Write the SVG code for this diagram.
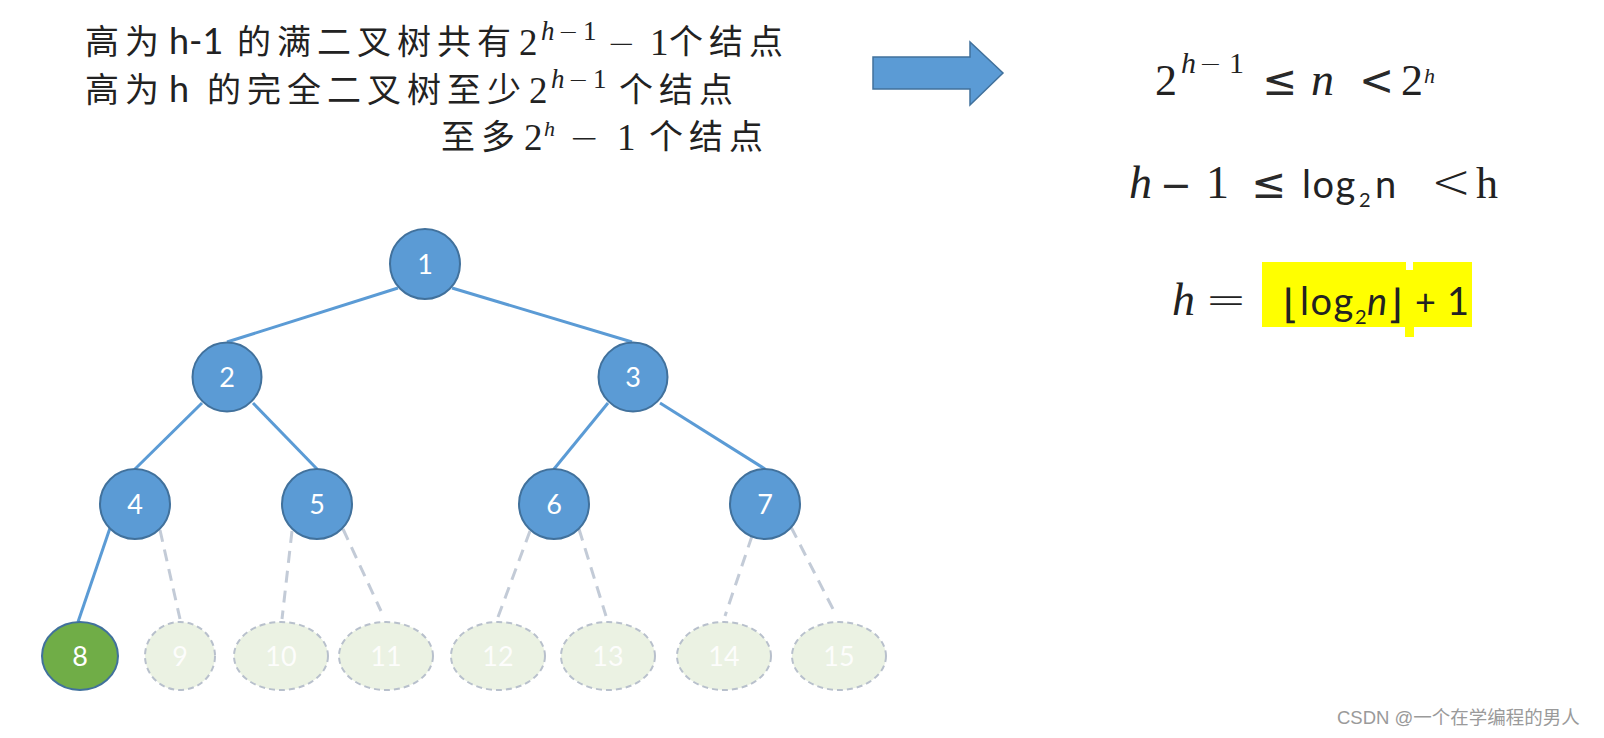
<svg xmlns="http://www.w3.org/2000/svg" width="1604" height="738" viewBox="0 0 1604 738">
<style>
.cjk{font-family:"Liberation Sans","Noto Sans CJK SC",sans-serif;font-size:34px;letter-spacing:6px;fill:#222}
.lat{font-family:Lato,"Liberation Sans",sans-serif;font-size:36px;fill:#222}
.m{font-family:"Liberation Serif",serif;fill:#222}
.mi{font-family:"Liberation Serif",serif;font-style:italic;fill:#222}
.op{font-family:"DejaVu Sans",sans-serif;fill:#2a2a2a}
.thin{font-family:"DejaVu Sans",sans-serif;font-weight:200;fill:#222}
.sans{font-family:Lato,"Liberation Sans",sans-serif;fill:#222}
.dj{font-family:"DejaVu Sans",sans-serif;font-weight:200;fill:#222}
.edge{stroke:#5b9bd5;stroke-width:3;fill:none}
.dash{stroke:#c3cbd7;stroke-width:3;stroke-dasharray:12 8;fill:none}
.nb{fill:#5b9bd5;stroke:#41719c;stroke-width:2}
.ng{fill:#70ad47;stroke:#41719c;stroke-width:2}
.nl{fill:#ebf2e3;stroke:#b8c0cc;stroke-width:2;stroke-dasharray:6 4}
.lbl{font-family:Lato,"Liberation Sans",sans-serif;font-size:27px;fill:#fff;text-anchor:middle}
.lbll{font-family:Lato,"Liberation Sans",sans-serif;font-size:27px;fill:#fff;text-anchor:middle;opacity:0.9}
.wm{font-family:"Liberation Sans","Noto Sans CJK SC",sans-serif;font-size:18.5px;fill:#9a9a9a}
</style>
<rect width="1604" height="738" fill="#fff"/>

<!-- top-left text -->
<g id="text-left">
<text class="cjk" x="85" y="54">高为</text>
<text class="lat" x="169" y="54">h-1</text>
<text class="cjk" x="237" y="54">的满二叉树共有</text>
<text class="m" x="519" y="55" font-size="37">2</text>
<text class="mi" x="541" y="40" font-size="27">h</text>
<text class="thin" x="558" y="40" font-size="24">−</text>
<text class="m" x="583" y="40" font-size="27">1</text>
<text class="thin" x="607" y="55" font-size="34">−</text>
<text class="m" x="650" y="55" font-size="37">1</text>
<text class="cjk" x="669" y="54">个结点</text>

<text class="cjk" x="85" y="102">高为</text>
<text class="lat" x="169" y="102">h</text>
<text class="cjk" x="207" y="102">的完全二叉树至少</text>
<text class="m" x="529" y="103" font-size="37">2</text>
<text class="mi" x="551" y="88" font-size="27">h</text>
<text class="thin" x="568" y="88" font-size="24">−</text>
<text class="m" x="593" y="88" font-size="27">1</text>
<text class="cjk" x="619" y="102">个结点</text>

<text class="cjk" x="441" y="149">至多</text>
<text class="m" x="524" y="150" font-size="37">2</text>
<text class="mi" x="544" y="136" font-size="22">h</text>
<text class="thin" x="569" y="150" font-size="36">−</text>
<text class="m" x="617" y="150" font-size="37">1</text>
<text class="cjk" x="649" y="149">个结点</text>
</g>

<!-- arrow -->
<g id="arrow">
<polygon points="873,57 970,57 970,42 1003,73 970,105 970,89 873,89" fill="#5b9bd5" stroke="#41719c" stroke-width="1.5"/>
</g>

<!-- right formulas -->
<g id="formulas">
<text class="m" x="1155" y="95" font-size="44">2</text>
<text class="mi" x="1181" y="73" font-size="30">h</text>
<text class="thin" x="1199" y="73" font-size="27">−</text>
<text class="m" x="1229" y="73" font-size="30">1</text>
<text class="op" x="1262" y="95" font-size="42">≤</text>
<text class="mi" x="1311" y="95" font-size="46">n</text>
<text class="op" x="1359" y="95" font-size="42">&lt;</text>
<text class="m" x="1401" y="95" font-size="44">2</text>
<text class="mi" x="1424" y="83" font-size="22">h</text>

<text class="mi" x="1129" y="198" font-size="46">h</text>
<text class="op" x="1160" y="198" font-size="38">−</text>
<text class="m" x="1206" y="198" font-size="46">1</text>
<text class="op" x="1251" y="198" font-size="42">≤</text>
<text class="sans" x="1302" y="198" font-size="38" letter-spacing="1.5">log</text>
<text class="sans" x="1359" y="207" font-size="20">2</text>
<text class="sans" x="1375" y="198" font-size="38">n</text>
<text class="thin" x="1431" y="198" font-size="48">&lt;</text>
<text class="m" x="1476" y="198" font-size="44">h</text>

<rect x="1262" y="262" width="144" height="65" fill="#ffff00"/>
<rect x="1413" y="262" width="59" height="65" fill="#ffff00"/>
<rect x="1405" y="270" width="9" height="67" fill="#ffff00"/>
<text class="mi" x="1172" y="315" font-size="46">h</text>
<text class="thin" x="1205" y="315" font-size="44" textLength="42" lengthAdjust="spacingAndGlyphs">=</text>
<text class="dj" x="1283" y="318" font-size="40">⌊</text>
<text class="sans" x="1300" y="315" font-size="38" letter-spacing="1.5">log</text>
<text class="sans" x="1355" y="324" font-size="20">2</text>
<text class="sans" x="1367" y="315" font-size="38" font-style="italic">n</text>
<text class="dj" x="1387" y="318" font-size="40">⌋</text>
<text class="sans" x="1415" y="315" font-size="36">+</text>
<text class="sans" x="1447" y="315" font-size="38">1</text>
</g>

<!-- connectors -->
<g id="connectors">
<line class="edge" x1="398" y1="288" x2="227" y2="342"/>
<line class="edge" x1="452" y1="288" x2="632" y2="342"/>
<line class="edge" x1="202" y1="403" x2="135" y2="469"/>
<line class="edge" x1="253" y1="403" x2="317" y2="469"/>
<line class="edge" x1="608" y1="403" x2="554" y2="469"/>
<line class="edge" x1="660" y1="403" x2="765" y2="469"/>
<line class="edge" x1="110" y1="528" x2="78" y2="622"/>
<line class="dash" x1="160" y1="530" x2="180" y2="619"/>
<line class="dash" x1="292" y1="531" x2="282" y2="619"/>
<line class="dash" x1="343" y1="529" x2="381" y2="611"/>
<line class="dash" x1="530" y1="531" x2="498" y2="617"/>
<line class="dash" x1="579" y1="529" x2="606" y2="616"/>
<line class="dash" x1="752" y1="536" x2="725" y2="616"/>
<line class="dash" x1="791" y1="527" x2="833" y2="609"/>
</g>

<!-- nodes -->
<g id="n1"><circle class="nb" cx="425" cy="264" r="35"/><text class="lbl" x="425" y="274">1</text></g>
<g id="n2"><circle class="nb" cx="227" cy="377" r="34.5"/><text class="lbl" x="227" y="387">2</text></g>
<g id="n3"><circle class="nb" cx="633" cy="377" r="34.5"/><text class="lbl" x="633" y="387">3</text></g>
<g id="n4"><ellipse class="nb" cx="135" cy="504" rx="35" ry="35"/><text class="lbl" x="135" y="514">4</text></g>
<g id="n5"><ellipse class="nb" cx="317" cy="504" rx="35" ry="35"/><text class="lbl" x="317" y="514">5</text></g>
<g id="n6"><ellipse class="nb" cx="554" cy="504" rx="35" ry="35"/><text class="lbl" x="554" y="514">6</text></g>
<g id="n7"><ellipse class="nb" cx="765" cy="504" rx="35" ry="35"/><text class="lbl" x="765" y="514">7</text></g>
<g id="n8"><ellipse class="ng" cx="80" cy="656" rx="38" ry="34"/><text class="lbl" x="80" y="666">8</text></g>
<g id="n9"><ellipse class="nl" cx="180" cy="656" rx="35" ry="34"/><text class="lbll" x="180" y="666">9</text></g>
<g id="n10"><ellipse class="nl" cx="281" cy="656" rx="47" ry="34"/><text class="lbll" x="281" y="666">10</text></g>
<g id="n11"><ellipse class="nl" cx="386" cy="656" rx="47" ry="34"/><text class="lbll" x="386" y="666">11</text></g>
<g id="n12"><ellipse class="nl" cx="498" cy="656" rx="47" ry="34"/><text class="lbll" x="498" y="666">12</text></g>
<g id="n13"><ellipse class="nl" cx="608" cy="656" rx="47" ry="34"/><text class="lbll" x="608" y="666">13</text></g>
<g id="n14"><ellipse class="nl" cx="724" cy="656" rx="47" ry="34"/><text class="lbll" x="724" y="666">14</text></g>
<g id="n15"><ellipse class="nl" cx="839" cy="656" rx="47" ry="34"/><text class="lbll" x="839" y="666">15</text></g>

<text class="wm" x="1337" y="724">CSDN @一个在学编程的男人</text>
</svg>
